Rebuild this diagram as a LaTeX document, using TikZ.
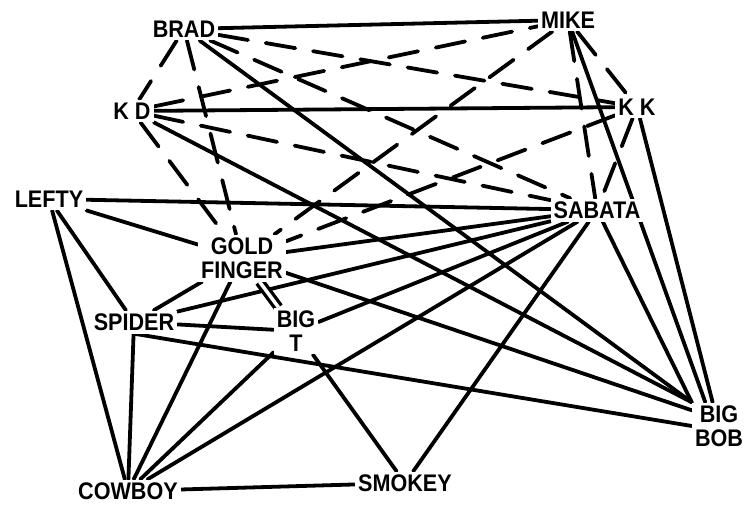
\documentclass[tikz,border=0pt]{standalone}
\usepackage{fontspec}
\newfontfamily\labfont[FakeStretch=0.9]{Liberation Sans}
\usetikzlibrary{backgrounds}

\tikzset{
  actor/.style={font=\labfont\bfseries\fontsize{24}{24}\selectfont,
                inner sep=3pt, fill=white, align=center},
  tie/.style={line width=3.8pt, line cap=round},
  weaktie/.style={line width=3.8pt, line cap=round, dash pattern=on 30pt off 18pt},
  strongtie/.style={double, double distance=3.5pt, line width=3.3pt}
}

\begin{document}
\begin{tikzpicture}[x=1pt,y=-1pt]
\useasboundingbox (0,0) rectangle (746,504);

% actors
\node[actor] (brad)   at (184,29)  {BRAD};
\node[actor] (mike)   at (568,20)  {MIKE};
\node[actor] (kd)     at (132,111) {K D};
\node[actor] (kk)     at (637,107) {K K};
\node[actor] (lefty)  at (49,199)  {LEFTY};
\node[actor] (sabata) at (597,210) {SABATA};
\node[actor] (gf)     at (242,258) {GOLD\\FINGER};
\node[actor] (spider) at (134,322) {SPIDER};
\node[actor] (bigt)   at (296,331) {BIG\\T};
\node[actor] (bigbob) at (719,426) {BIG\\BOB};
\node[actor] (cowboy) at (128,491) {COWBOY};
\node[actor] (smokey) at (405,483) {SMOKEY};

\begin{scope}[on background layer]
% solid ties
\draw[tie] (brad) -- (mike);
\draw[tie] (brad) -- (bigbob.north west);
\draw[tie] (kd) -- (kk);
\draw[tie] (kd) -- (bigbob.north west);
\draw[tie] (mike) -- (bigbob.120);
\draw[tie] (kk) -- (bigbob.105);
\draw[tie] (lefty) -- (sabata);
\draw[tie] (lefty) -- (gf);
\draw[tie] (lefty) -- (spider);
\draw[tie] (lefty) -- (cowboy);
\draw[tie] (gf) -- (sabata);
\draw[tie] (gf) -- (spider);
\draw[tie] (gf) -- (cowboy);
\draw[tie] (gf) -- (bigbob.150);
\draw[tie] (sabata) -- (spider);
\draw[tie] (sabata) -- (bigt);
\draw[tie] (sabata) -- (cowboy);
\draw[tie] (sabata) -- (smokey);
\draw[tie] (sabata) -- (bigbob.north west);
\draw[tie] (spider) -- (bigt);
\draw[tie] (spider) -- (cowboy);
\draw[tie] (spider.south) -- (bigbob.west);
\draw[tie] (bigt) -- (cowboy);
\draw[tie] (bigt) -- (smokey);
\draw[tie] (cowboy) -- (smokey);
% double tie
\draw[strongtie] (gf) -- (bigt);
% dashed ties
\draw[weaktie] (brad) -- (kd);
\draw[weaktie] (brad) -- (kk);
\draw[weaktie] (brad) -- (sabata);
\draw[weaktie] (brad) -- (gf);
\draw[weaktie] (kd) -- (mike);
\draw[weaktie] (kd) -- (sabata);
\draw[weaktie] (kd) -- (gf);
\draw[weaktie] (mike) -- (kk);
\draw[weaktie] (mike) -- (gf);
\draw[weaktie] (mike) -- (sabata);
\draw[weaktie] (kk) -- (sabata);
\draw[weaktie] (kk) -- (gf);
\end{scope}
\end{tikzpicture}
\end{document}
